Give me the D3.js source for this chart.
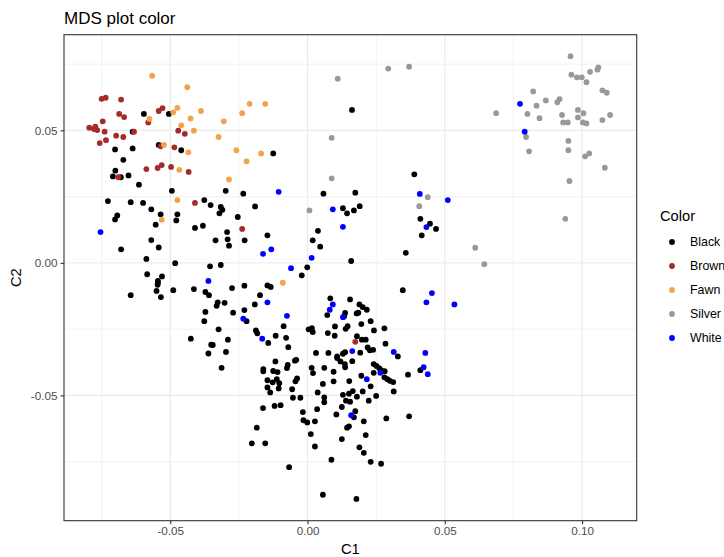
<!DOCTYPE html>
<html>
<head>
<meta charset="utf-8">
<script src="https://cdn.jsdelivr.net/npm/d3@7/dist/d3.min.js"></script>
<style>
  html, body { margin: 0; padding: 0; background: #fff; }
  svg { display: block; font-family: "Liberation Sans", Arial, sans-serif; }
</style>
</head>
<body>
<svg id="chart" width="724" height="557"></svg>
<script>
// MDS coordinates (C1, C2) for each colour group
const black = [
  [-0.0596,0.0562],[-0.0505,0.0562],[-0.0637,0.0495],[-0.0542,0.0445],[-0.0701,0.0428],[-0.0637,0.0432],
  [-0.0460,0.0425],[-0.0671,0.0389],[-0.0700,0.0348],[-0.0709,0.0326],[-0.0680,0.0323],[-0.0652,0.0330],
  [-0.0614,0.0295],[-0.0494,0.0272],[-0.0125,0.0413],[0.0162,0.0577],[-0.0298,0.0272],[-0.0234,0.0261],
  [0.0058,0.0261],[0.0174,0.0265],[0.0389,0.0334],[-0.0727,0.0233],[-0.0644,0.0229],[-0.0599,0.0226],
  [-0.0569,0.0202],[-0.0535,0.0183],[-0.0474,0.0183],[-0.0693,0.0179],[-0.0701,0.0164],[-0.0478,0.0160],
  [-0.0553,0.0144],[-0.0376,0.0237],[-0.0353,0.0218],[-0.0410,0.0132],[-0.0381,0.0140],[-0.0569,0.0086],
  [-0.0542,0.0058],[-0.0679,0.0051],[-0.0587,0.0015],[-0.0482,-0.0001],[-0.0355,-0.0013],[-0.0584,-0.0043],
  [-0.0530,-0.0051],[-0.0545,-0.0068],[-0.0545,-0.0075],[-0.0546,-0.0083],[-0.0644,-0.0122],[-0.0550,-0.0106],
  [-0.0534,-0.0129],[-0.0489,-0.0103],[-0.0414,-0.0099],[-0.0372,-0.0110],[-0.0359,-0.0122],[-0.0372,-0.0185],
  [-0.0376,-0.0220],[-0.0425,-0.0286],[-0.0351,-0.0309],[-0.0361,-0.0342],[-0.0316,0.0211],[-0.0310,0.0200],
  [-0.0321,0.0187],[-0.0191,0.0213],[-0.0254,0.0173],[-0.0293,0.0116],[-0.0335,0.0085],[-0.0291,0.0089],
  [-0.0286,0.0065],[-0.0229,0.0085],[-0.0146,0.0104],[-0.0316,-0.0008],[-0.0275,-0.0095],[-0.0230,-0.0086],
  [-0.0146,-0.0085],[-0.0134,-0.0091],[-0.0173,-0.0122],[-0.0327,-0.0149],[-0.0331,-0.0162],[-0.0302,-0.0151],
  [-0.0271,-0.0188],[-0.0192,-0.0157],[-0.0230,-0.0178],[-0.0222,-0.0220],[-0.0324,-0.0251],[-0.0290,-0.0290],
  [-0.0345,-0.0310],[-0.0297,-0.0336],[-0.0188,-0.0255],[-0.0183,-0.0266],[-0.0143,-0.0302],[-0.0116,-0.0275],
  [-0.0087,-0.0239],[-0.0078,-0.0283],[-0.0070,-0.0318],[-0.0001,-0.0017],[-0.0021,-0.0047],[0.0038,0.0121],
  [0.0019,0.0085],[0.0046,0.0061],[0.0129,0.0206],[0.0144,0.0187],[0.0169,0.0198],[0.0159,0.0007],
  [0.0083,-0.0134],[0.0155,-0.0138],[0.0072,-0.0197],[0.0137,-0.0189],[0.0133,-0.0202],[0.0179,-0.0191],
  [0.0004,-0.0251],[0.0019,-0.0261],[0.0016,-0.0246],[0.0074,-0.0265],[0.0100,-0.0240],[0.0139,-0.0249],
  [0.0146,-0.0239],[0.0099,-0.0275],[0.0031,-0.0340],[0.0076,-0.0340],[0.0108,-0.0353],[0.0129,-0.0343],
  [0.0137,-0.0337],[0.0180,-0.0277],[0.0190,0.0214],[0.0411,0.0166],[0.0446,0.0148],[0.0468,0.0128],
  [0.0416,0.0104],[0.0358,0.0038],[0.0347,-0.0103],[0.0189,-0.0157],[0.0201,-0.0167],[0.0216,-0.0177],
  [0.0185,-0.0188],[0.0196,-0.0231],[0.0230,-0.0220],[0.0242,-0.0255],[0.0280,-0.0247],[0.0198,-0.0290],
  [0.0212,-0.0290],[0.0284,-0.0305],[0.0219,-0.0319],[0.0227,-0.0330],[0.0239,-0.0328],[0.0192,-0.0339],
  [0.0329,-0.0353],[-0.0313,-0.0396],[-0.0161,-0.0401],[-0.0161,-0.0409],[-0.0117,-0.0372],[-0.0125,-0.0408],
  [-0.0109,-0.0412],[-0.0072,-0.0385],[-0.0075,-0.0397],[-0.0041,-0.0366],[-0.0046,-0.0369],[-0.0146,-0.0443],
  [-0.0127,-0.0451],[-0.0112,-0.0439],[-0.0103,-0.0454],[-0.0146,-0.0470],[-0.0105,-0.0474],[-0.0136,-0.0489],
  [-0.0038,-0.0436],[-0.0044,-0.0447],[-0.0056,-0.0477],[-0.0053,-0.0509],[-0.0026,-0.0509],[-0.0162,-0.0548],
  [-0.0120,-0.0540],[-0.0098,-0.0537],[0.0015,-0.0396],[0.0020,-0.0416],[0.0061,-0.0396],[0.0095,-0.0411],
  [0.0108,-0.0359],[0.0120,-0.0372],[0.0136,-0.0382],[0.0137,-0.0394],[0.0163,-0.0371],[0.0095,-0.0447],
  [0.0056,-0.0457],[0.0152,-0.0446],[0.0037,-0.0489],[0.0061,-0.0508],[0.0061,-0.0526],[0.0129,-0.0498],
  [0.0151,-0.0494],[0.0165,-0.0484],[0.0180,-0.0505],[0.0140,-0.0520],[0.0155,-0.0524],[-0.0017,-0.0563],
  [-0.0015,-0.0594],[-0.0001,-0.0602],[0.0027,-0.0598],[0.0035,-0.0552],[0.0105,-0.0572],[0.0125,-0.0544],
  [0.0169,-0.0583],[0.0174,-0.0560],[-0.0185,-0.0622],[0.0012,-0.0646],[0.0027,-0.0693],[0.0144,-0.0622],
  [0.0151,-0.0617],[0.0125,-0.0665],[-0.0203,-0.0681],[-0.0154,-0.0681],[0.0087,-0.0743],[-0.0067,-0.0771],
  [0.0056,-0.0875],[0.0178,-0.0891],[0.0241,-0.0382],[0.0251,-0.0389],[0.0261,-0.0397],[0.0268,-0.0405],
  [0.0281,-0.0409],[0.0241,-0.0415],[0.0196,-0.0426],[0.0280,-0.0432],[0.0291,-0.0439],[0.0300,-0.0445],
  [0.0312,-0.0450],[0.0366,-0.0422],[0.0411,-0.0405],[0.0230,-0.0466],[0.0201,-0.0485],[0.0314,-0.0485],
  [0.0250,-0.0502],[0.0223,-0.0520],[0.0205,-0.0598],[0.0287,-0.0587],[0.0370,-0.0579],[0.0212,-0.0650],
  [0.0189,-0.0696],[0.0205,-0.0717],[0.0230,-0.0751],[0.0268,-0.0758]
];
const brown = [
  [-0.0750,0.0619],[-0.0735,0.0623],[-0.0679,0.0616],[-0.0686,0.0562],[-0.0668,0.0550],[-0.0542,0.0573],
  [-0.0528,0.0584],[-0.0580,0.0530],[-0.0746,0.0534],[-0.0795,0.0510],[-0.0773,0.0514],[-0.0778,0.0505],
  [-0.0766,0.0501],[-0.0739,0.0495],[-0.0697,0.0480],[-0.0671,0.0475],[-0.0632,0.0495],[-0.0734,0.0463],
  [-0.0757,0.0452],[-0.0535,0.0440],[-0.0471,0.0499],[-0.0447,0.0487],[-0.0485,0.0436],[-0.0531,0.0369],
  [-0.0546,0.0358],[-0.0587,0.0354],[-0.0497,0.0362],[-0.0433,0.0343],[-0.0689,0.0323],[-0.0410,0.0226],
  [-0.0238,0.0128],[0.0174,-0.0298]
];
const fawn = [
  [-0.0566,0.0706],[-0.0438,0.0663],[-0.0474,0.0585],[-0.0489,0.0568],[-0.0388,0.0573],[-0.0576,0.0543],
  [-0.0426,0.0545],[-0.0460,0.0519],[-0.0414,0.0499],[-0.0523,0.0445],[-0.0434,0.0417],[-0.0467,0.0351],
  [-0.0474,0.0237],[-0.0211,0.0600],[-0.0154,0.0600],[-0.0238,0.0565],[-0.0305,0.0534],[-0.0324,0.0475],
  [-0.0259,0.0425],[-0.0169,0.0413],[-0.0222,0.0383],[-0.0286,0.0315],[-0.0531,0.0163],[-0.0090,-0.0075]
];
const silver = [
  [0.0110,0.0695],[0.0088,0.0472],[0.0088,0.0319],[0.0294,0.0733],[0.0370,0.0740],[0.0687,0.0565],
  [0.0438,0.0248],[0.0407,0.0214],[0.0007,0.0198],[0.0611,0.0057],[0.0644,-0.0005],
  [0.0958,0.0780],[0.1059,0.0738],[0.1056,0.0729],[0.1029,0.0721],[0.0961,0.0710],[0.0981,0.0700],
  [0.0999,0.0700],[0.1016,0.0682],[0.0822,0.0647],[0.1074,0.0651],[0.1090,0.0642],[0.0868,0.0613],
  [0.0918,0.0618],[0.0910,0.0606],[0.0834,0.0593],[0.0801,0.0562],[0.0845,0.0546],[0.0927,0.0558],
  [0.0985,0.0577],[0.1005,0.0565],[0.0985,0.0549],[0.0931,0.0530],[0.0948,0.0530],[0.1003,0.0530],
  [0.1016,0.0526],[0.1074,0.0539],[0.1102,0.0558],[0.0796,0.0475],[0.0950,0.0460],[0.0807,0.0421],
  [0.0950,0.0425],[0.1026,0.0413],[0.1011,0.0402],[0.1083,0.0359],[0.0954,0.0309],[0.0939,0.0166]
];
const white = [
  [-0.0105,0.0268],[0.0409,0.0260],[0.0511,0.0237],[0.0774,0.0600],[0.0791,0.0495],[-0.0754,0.0116],
  [-0.0361,-0.0068],[-0.0162,0.0034],[-0.0132,0.0051],[-0.0060,-0.0020],[-0.0146,-0.0149],[-0.0075,-0.0200],
  [-0.0234,-0.0211],[-0.0165,-0.0286],[0.0015,0.0019],[0.0092,0.0202],[0.0129,0.0136],[0.0092,-0.0157],
  [0.0081,-0.0177],[0.0129,-0.0205],[0.0163,-0.0333],[0.0433,0.0135],[0.0453,-0.0114],[0.0433,-0.0149],
  [0.0535,-0.0157],[0.0314,-0.0336],[0.0429,-0.0340],[0.0159,-0.0575],[0.0216,-0.0439],[0.0265,-0.0415],
  [0.0423,-0.0394],[0.0438,-0.0420]
];

const groups = ["Black", "Brown", "Fawn", "Silver", "White"];
const groupColors = ["#000000", "#A52A2A", "#F5A14B", "#999999", "#0000FF"];
const groupData = [black, brown, fawn, silver, white];

const xTicks = [-0.05, 0.00, 0.05, 0.10];
const yTicks = [-0.05, 0.00, 0.05];
const xMinor = [-0.075, -0.025, 0.025, 0.075];
const yMinor = [-0.075, -0.025, 0.025, 0.075];

const svg = d3.select("#chart");
const panel = { left: 64, right: 636.7, top: 34.7, bottom: 520.7 };

const x = d3.scaleLinear().domain([-0.0887, 0.1199]).range([panel.left, panel.right]);
const y = d3.scaleLinear().domain([-0.0973, 0.0861]).range([panel.bottom, panel.top]);

const g = svg.append("g");

// panel grid
g.append("g").selectAll("line").data(xMinor).join("line")
  .attr("x1", d => x(d)).attr("x2", d => x(d))
  .attr("y1", panel.top).attr("y2", panel.bottom)
  .attr("stroke", "#EBEBEB").attr("stroke-width", 0.6);
g.append("g").selectAll("line").data(yMinor).join("line")
  .attr("y1", d => y(d)).attr("y2", d => y(d))
  .attr("x1", panel.left).attr("x2", panel.right)
  .attr("stroke", "#EBEBEB").attr("stroke-width", 0.6);
g.append("g").selectAll("line").data(xTicks).join("line")
  .attr("x1", d => x(d)).attr("x2", d => x(d))
  .attr("y1", panel.top).attr("y2", panel.bottom)
  .attr("stroke", "#EBEBEB").attr("stroke-width", 1.2);
g.append("g").selectAll("line").data(yTicks).join("line")
  .attr("y1", d => y(d)).attr("y2", d => y(d))
  .attr("x1", panel.left).attr("x2", panel.right)
  .attr("stroke", "#EBEBEB").attr("stroke-width", 1.2);

// points
groupData.forEach((pts, i) => {
  g.append("g").selectAll("circle").data(pts).join("circle")
    .attr("cx", d => x(d[0])).attr("cy", d => y(d[1]))
    .attr("r", 2.9).attr("fill", groupColors[i]);
});

// panel border
g.append("rect")
  .attr("x", panel.left).attr("y", panel.top)
  .attr("width", panel.right - panel.left).attr("height", panel.bottom - panel.top)
  .attr("fill", "none").attr("stroke", "#333333").attr("stroke-width", 1.1);

// axes (plain hyphen for negative numbers)
const fmt = d => d3.format(".2f")(d).replace("\u2212", "-");
const xAxis = d3.axisBottom(x).tickValues(xTicks).tickFormat(fmt).tickSize(3.5).tickPadding(3);
const yAxis = d3.axisLeft(y).tickValues(yTicks).tickFormat(fmt).tickSize(3.5).tickPadding(3);

const gx = svg.append("g").attr("transform", `translate(0,${panel.bottom})`).call(xAxis);
const gy = svg.append("g").attr("transform", `translate(${panel.left},0)`).call(yAxis);
[gx, gy].forEach(a => {
  a.select(".domain").remove();
  a.selectAll(".tick line").attr("stroke", "#333333").attr("stroke-width", 1.1);
  a.selectAll(".tick text").attr("fill", "#4D4D4D")
    .style("font-size", "11.7px").style("font-family", "'Liberation Sans', Arial, sans-serif");
});

// titles
svg.append("text").attr("x", panel.left).attr("y", 24)
  .attr("fill", "#000").style("font-size", "17px").text("MDS plot color");
svg.append("text").attr("x", (panel.left + panel.right) / 2).attr("y", 554)
  .attr("text-anchor", "middle").attr("fill", "#000").style("font-size", "14.7px").text("C1");
svg.append("text")
  .attr("transform", `translate(21,${(panel.top + panel.bottom) / 2}) rotate(-90)`)
  .attr("text-anchor", "middle").attr("fill", "#000").style("font-size", "14.7px").text("C2");

// legend
const legend = svg.append("g").attr("transform", "translate(660,0)");
legend.append("text").attr("x", 0).attr("y", 221)
  .attr("fill", "#000").style("font-size", "14.7px").text("Color");
const items = legend.selectAll("g.item").data(groups).join("g")
  .attr("class", "item")
  .attr("transform", (d, i) => `translate(0,${242 + i * 24})`);
items.append("circle").attr("cx", 12).attr("cy", 0).attr("r", 2.9)
  .attr("fill", (d, i) => groupColors[i]);
items.append("text").attr("x", 30).attr("y", 4.4)
  .attr("fill", "#000").style("font-size", "12.4px").text(d => d);
</script>
</body>
</html>
